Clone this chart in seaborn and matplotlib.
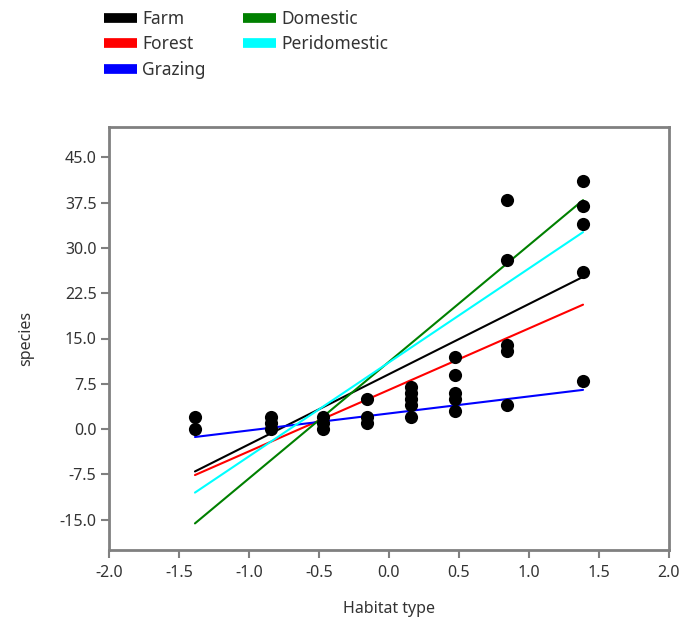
import matplotlib
matplotlib.use("Agg")
import matplotlib.pyplot as plt
import seaborn as sns
import pandas as pd
import numpy as np

# ---- data ----
point_x = [-1.386, -1.386,
           -0.84, -0.84, -0.84,
           -0.47, -0.47, -0.47,
           -0.155, -0.155, -0.155,
           0.155, 0.155, 0.155, 0.155, 0.155,
           0.47, 0.47, 0.47, 0.47, 0.47,
           0.84, 0.84, 0.84, 0.84, 0.84,
           1.386, 1.386, 1.386, 1.386, 1.386]
point_y = [2, 0,
           2, 1, 0,
           2, 1, 0,
           5, 2, 1,
           7, 6, 5, 4, 2,
           12, 9, 6, 5, 3,
           38, 28, 14, 13, 4,
           41, 37, 34, 26, 8]

habitats = ["Farm", "Forest", "Grazing", "Domestic", "Peridomestic"]
line_x_start = -1.386
line_x_end = 1.386
line_y_start = [-7.0, -7.6, -1.3, -15.6, -10.5]
line_y_end = [25.2, 20.6, 6.5, 37.9, 32.6]
colors = ["#000000", "#FF0000", "#0000FF", "#008000", "#00FFFF"]

x_ticks = [-2.0, -1.5, -1.0, -0.5, 0.0, 0.5, 1.0, 1.5, 2.0]
y_ticks = [-15.0, -7.5, 0.0, 7.5, 15.0, 22.5, 30.0, 37.5, 45.0]

# ---- build frames ----
pts = pd.DataFrame({"Habitat type": point_x, "species": point_y})
rows = []
for h, y0, y1 in zip(habitats, line_y_start, line_y_end):
    rows.append({"Habitat type": line_x_start, "species": y0, "habitat": h})
    rows.append({"Habitat type": line_x_end, "species": y1, "habitat": h})
lines = pd.DataFrame(rows)
palette = dict(zip(habitats, colors))

sns.set_style("white")
plt.rcParams["font.family"] = ["Noto Sans", "DejaVu Sans"]

fig = plt.figure(figsize=(6.85, 6.32), dpi=100)
ax = fig.add_axes([109 / 685, 1 - 550 / 632, 560 / 685, 423 / 632])

sns.scatterplot(data=pts, x="Habitat type", y="species", color="black",
                s=90, edgecolor="black", linewidth=0, ax=ax, zorder=3)
sns.lineplot(data=lines, x="Habitat type", y="species", hue="habitat",
             hue_order=habitats, palette=palette, linewidth=1.5,
             ax=ax, zorder=2, sort=False)

handles, labels = ax.get_legend_handles_labels()
if ax.get_legend() is not None:
    ax.get_legend().remove()

ax.set_xlim(-2.0, 2.0)
ax.set_ylim(-20, 50)
ax.set_xticks(x_ticks)
ax.set_yticks(y_ticks)
ax.set_xticklabels([f"{v:.1f}" for v in x_ticks])
ax.set_yticklabels([f"{v:.1f}" for v in y_ticks])

frame_col = "#808080"
for sp in ax.spines.values():
    sp.set_color(frame_col)
    sp.set_linewidth(2)
ax.tick_params(axis="both", direction="out", length=6, width=1.5,
               color=frame_col, labelsize=11.5, labelcolor="#333333", pad=3,
               bottom=True, left=True)
ax.tick_params(axis="x", pad=5)

ax.set_xlabel("Habitat type", fontsize=11.5, color="#333333", labelpad=14)
ax.set_ylabel("species", fontsize=11.5, color="#333333", labelpad=18)

leg = fig.legend(handles, labels, loc="upper left",
                 bbox_to_anchor=(104 / 685, 1 - 10 / 632), ncol=2,
                 frameon=False, fontsize=12.5, handlelength=1.9,
                 handletextpad=0.3, labelspacing=0.42, columnspacing=2.15,
                 borderpad=0, borderaxespad=0)
for ln in leg.get_lines():
    ln.set_linewidth(7)
    ln.set_solid_capstyle("butt")
for t in leg.get_texts():
    t.set_color("#333333")

fig.savefig("out.png", dpi=100)
